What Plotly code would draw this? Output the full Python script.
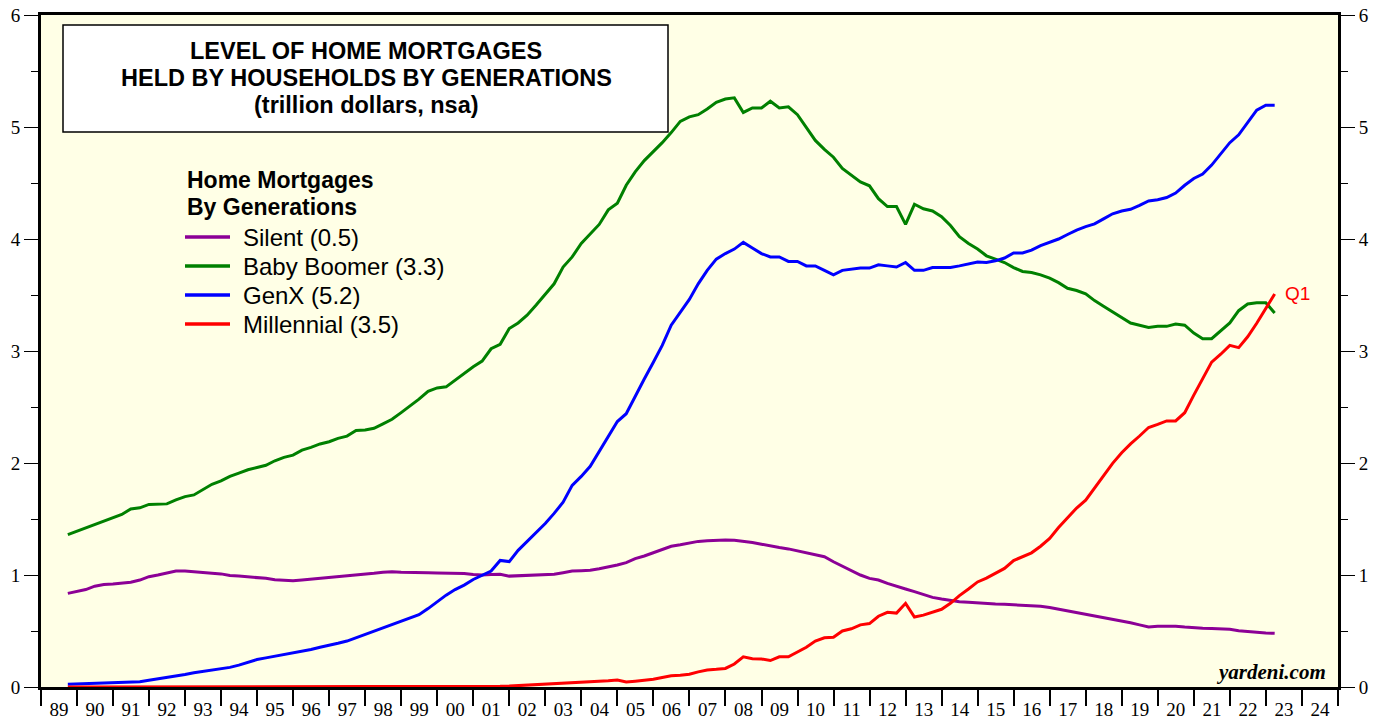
import pandas as pd
import plotly.graph_objects as go

# quarterly, 1989Q3 .. 2023Q1, trillion dollars
quarters = pd.period_range("1989Q3", "2023Q1", freq="Q")
dates = quarters.to_timestamp(how="end").strftime("%Y-%m-%d")

silent = [
    0.836, 0.85,
    0.87, 0.90, 0.915, 0.92,
    0.93, 0.935, 0.955, 0.985,
    1.0, 1.02, 1.035, 1.035,
    1.027, 1.02, 1.015, 1.01,
    0.995, 0.99, 0.985, 0.979,
    0.97, 0.958, 0.955, 0.949,
    0.955, 0.962, 0.972, 0.978,
    0.983, 0.99, 1.003, 1.01,
    1.015, 1.025, 1.03, 1.025,
    1.021, 1.02, 1.019, 1.018,
    1.017, 1.016, 1.014, 1.005,
    1.0, 1.005, 1.007, 0.99,
    0.993, 0.997, 1.0, 1.004,
    1.007, 1.02, 1.035, 1.038,
    1.042, 1.055, 1.07, 1.09,
    1.11, 1.146, 1.17, 1.198,
    1.23, 1.257, 1.27, 1.285,
    1.30, 1.306, 1.312, 1.313,
    1.31, 1.302, 1.29, 1.275,
    1.257, 1.245, 1.233, 1.215,
    1.198, 1.18, 1.163, 1.118,
    1.08, 1.042, 1.0, 0.97,
    0.955, 0.925, 0.903, 0.875,
    0.852, 0.825, 0.80, 0.785,
    0.771, 0.762, 0.757, 0.75,
    0.745, 0.741, 0.738, 0.735,
    0.73, 0.725, 0.72, 0.71,
    0.695, 0.68, 0.667, 0.652,
    0.638, 0.622, 0.608, 0.59,
    0.573, 0.555, 0.535, 0.542,
    0.542, 0.542, 0.535, 0.528,
    0.525, 0.523, 0.521, 0.515,
    0.503, 0.495, 0.487, 0.482,
    0.479,
]

boomer = [
    1.36, 1.39,
    1.42, 1.45, 1.48, 1.51,
    1.54, 1.59, 1.60, 1.63,
    1.63, 1.635, 1.67, 1.70,
    1.715, 1.76, 1.81, 1.84,
    1.88, 1.91, 1.94, 1.96,
    1.98, 2.02, 2.05, 2.07,
    2.115, 2.14, 2.17, 2.19,
    2.22, 2.24, 2.29, 2.295,
    2.31, 2.35, 2.39, 2.45,
    2.51, 2.57, 2.64, 2.67,
    2.68, 2.74, 2.80, 2.86,
    2.91, 3.02, 3.06, 3.20,
    3.25, 3.32, 3.41, 3.51,
    3.60, 3.75, 3.84, 3.96,
    4.05, 4.13, 4.26, 4.32,
    4.48, 4.60, 4.70, 4.78,
    4.86, 4.95, 5.05, 5.09,
    5.11, 5.16, 5.22, 5.25,
    5.26, 5.13, 5.17, 5.17,
    5.23, 5.17, 5.18, 5.11,
    4.99, 4.88, 4.80, 4.73,
    4.63, 4.57, 4.51, 4.475,
    4.36, 4.29, 4.29, 4.13,
    4.31, 4.27, 4.25, 4.20,
    4.12, 4.02, 3.96, 3.91,
    3.85, 3.82, 3.79, 3.745,
    3.71, 3.70, 3.68, 3.65,
    3.61, 3.56, 3.54, 3.51,
    3.45, 3.40, 3.35, 3.30,
    3.25, 3.23, 3.21, 3.22,
    3.22, 3.24, 3.23, 3.16,
    3.11, 3.11, 3.18, 3.25,
    3.36, 3.42, 3.43, 3.43,
    3.34,
]

genx = [
    0.024, 0.027,
    0.030, 0.032, 0.033, 0.033,
    0.035, 0.040, 0.047, 0.060,
    0.072, 0.085, 0.098, 0.112,
    0.128, 0.14, 0.152, 0.165,
    0.175, 0.195, 0.22, 0.245,
    0.26, 0.275, 0.29, 0.30,
    0.315, 0.335, 0.355, 0.37,
    0.39, 0.41, 0.44, 0.47,
    0.50, 0.53, 0.555, 0.585,
    0.615, 0.645, 0.70, 0.76,
    0.82, 0.87, 0.91, 0.96,
    1.0, 1.035, 1.13, 1.12,
    1.22, 1.30, 1.38, 1.46,
    1.55, 1.65, 1.80, 1.88,
    1.97, 2.10, 2.24, 2.37,
    2.44, 2.60, 2.75, 2.90,
    3.05, 3.23, 3.34, 3.46,
    3.60, 3.72, 3.82, 3.87,
    3.91, 3.97, 3.92, 3.87,
    3.84, 3.84, 3.80, 3.80,
    3.76, 3.76, 3.72, 3.68,
    3.72, 3.73, 3.74, 3.74,
    3.77, 3.76, 3.75, 3.79,
    3.72, 3.72, 3.745, 3.745,
    3.745, 3.76, 3.775, 3.795,
    3.79, 3.805, 3.83, 3.875,
    3.875, 3.90, 3.94, 3.97,
    4.00, 4.04, 4.08, 4.11,
    4.135, 4.18, 4.225, 4.25,
    4.265, 4.30, 4.34, 4.35,
    4.37, 4.41, 4.48, 4.54,
    4.58, 4.66, 4.76, 4.86,
    4.93, 5.04, 5.15, 5.195,
    5.195,
]

millennial = [
    0, 0,
    0, 0, 0, 0,
    0, 0, 0, 0,
    0, 0, 0, 0,
    0, 0, 0, 0,
    0, 0, 0, 0,
    0, 0, 0, 0,
    0, 0, 0, 0,
    0, 0, 0, 0,
    0, 0, 0, 0,
    0, 0, 0, 0,
    0, 0, 0, 0,
    0.003, 0.005, 0.006, 0.008,
    0.012, 0.016, 0.02, 0.024,
    0.027, 0.031, 0.035, 0.038,
    0.041, 0.048, 0.055, 0.062,
    0.045, 0.052, 0.06, 0.069,
    0.085, 0.10, 0.105, 0.114,
    0.135, 0.152, 0.158, 0.166,
    0.205, 0.27, 0.253, 0.25,
    0.236, 0.27, 0.27, 0.31,
    0.355, 0.41, 0.44, 0.444,
    0.50, 0.52, 0.555, 0.566,
    0.632, 0.667, 0.66, 0.747,
    0.625, 0.642, 0.667, 0.694,
    0.747, 0.816, 0.875, 0.938,
    0.972, 1.014, 1.059, 1.129,
    1.163, 1.198, 1.257, 1.327,
    1.424, 1.511, 1.598, 1.668,
    1.779, 1.883, 1.997, 2.091,
    2.171, 2.241, 2.317, 2.345,
    2.376, 2.376, 2.449, 2.606,
    2.751, 2.901, 2.971, 3.05,
    3.03, 3.127, 3.248, 3.377,
    3.509,
]

series = [
    ("Silent", silent, "#8c0096"),
    ("Baby Boomer", boomer, "#008000"),
    ("GenX", genx, "#0000ff"),
    ("Millennial", millennial, "#ff0000"),
]

SANS = "Liberation Sans, Arial, sans-serif"
SERIF = "Liberation Serif, Times New Roman, serif"

W, H = 1384, 719
# plot area in window pixels: x 41..1338, y 15..687
PL, PR, PT, PB = 41, 1338, 15, 687


def px(x):
    return (x - PL) / (PR - PL)


def py(y):
    return (PB - y) / (PB - PT)


fig = go.Figure()
for name, vals, color in series:
    fig.add_trace(go.Scatter(
        x=dates, y=vals, mode="lines",
        name=f"{name} ({vals[-1]:.1f})",
        line=dict(color=color, width=3),
        showlegend=False,
    ))

# hidden copy on the right axis so it gets drawn
fig.add_trace(go.Scatter(x=dates, y=genx, yaxis="y2", mode="lines",
                         line=dict(width=0), opacity=0, showlegend=False,
                         hoverinfo="skip"))

# Q1 label at the last point
fig.add_annotation(x=dates[-1], y=millennial[-1], text="Q1", showarrow=False,
                   xanchor="left", yanchor="middle", xshift=8,
                   font=dict(family=SANS, size=19, color="#ff0000"))

# title box
fig.add_shape(type="rect", xref="paper", yref="paper",
              x0=px(63), x1=px(668), y0=py(132), y1=py(25),
              line=dict(color="black", width=1.5), fillcolor="white", layer="above")
title_lines = ["LEVEL OF HOME MORTGAGES",
               "HELD BY HOUSEHOLDS BY GENERATIONS",
               "(trillion dollars, nsa)"]
for k, line in enumerate(title_lines):
    fig.add_annotation(xref="paper", yref="paper",
                       x=px(366), y=py(51 + 27 * k),
                       text=f"<b>{line}</b>", showarrow=False,
                       xanchor="center", yanchor="middle",
                       font=dict(family=SANS, size=23.5, color="black"))

# legend drawn by hand
for k, line in enumerate(["Home Mortgages", "By Generations"]):
    fig.add_annotation(xref="paper", yref="paper", x=px(185), y=py(180 + 26.5 * k),
                       text=f"<b>{line}</b>", showarrow=False,
                       xanchor="left", yanchor="middle",
                       font=dict(family=SANS, size=23, color="black"))
for k, (name, vals, color) in enumerate(series):
    yk = py(237 + 29 * k)
    fig.add_shape(type="line", xref="paper", yref="paper",
                  x0=px(185), x1=px(230), y0=yk, y1=yk,
                  line=dict(color=color, width=3.5))
    fig.add_annotation(xref="paper", yref="paper", x=px(241), y=yk,
                       text=f"{name} ({vals[-1]:.1f})", showarrow=False,
                       xanchor="left", yanchor="middle",
                       font=dict(family=SANS, size=24, color="black"))

fig.add_annotation(xref="paper", yref="paper", x=px(1328), y=py(672),
                   text="<b><i>yardeni.com</i></b>", showarrow=False,
                   xanchor="right", yanchor="middle",
                   font=dict(family=SERIF, size=21, color="black"))

axis_common = dict(
    range=[0, 6], dtick=1, tick0=0,
    ticks="outside", ticklen=14, tickwidth=1, tickcolor="black",
    minor=dict(dtick=0.5, ticks="outside", ticklen=7, tickcolor="black"),
    showgrid=False, zeroline=False, showline=True, linewidth=3, linecolor="black",
    tickfont=dict(family=SERIF, size=19, color="black"),
    automargin=False, fixedrange=True,
)

fig.update_layout(
    width=W, height=H,
    margin=dict(l=PL, r=W - PR, t=PT, b=H - PB, autoexpand=False),
    paper_bgcolor="white", plot_bgcolor="#ffffe6",
    xaxis=dict(
        type="date", range=["1989-01-01", "2025-01-01"],
        dtick="M12", tick0="1989-01-01", tickformat="%y", ticklabelmode="period",
        ticks="outside", ticklen=16, tickwidth=2, tickcolor="black",
        ticklabelstandoff=-13,
        showgrid=False, showline=True, linewidth=3, linecolor="black", mirror=True,
        tickfont=dict(family=SERIF, size=19, color="black"),
        automargin=False,
    ),
    yaxis=dict(side="left", mirror=True, **axis_common),
    yaxis2=dict(side="right", overlaying="y", **axis_common),
    showlegend=False,
)

# drop the page's default body margin so the chart fills the window exactly
fig.write_html("out.html", config={"displayModeBar": False},
               post_script="document.body.style.margin = '0';")
